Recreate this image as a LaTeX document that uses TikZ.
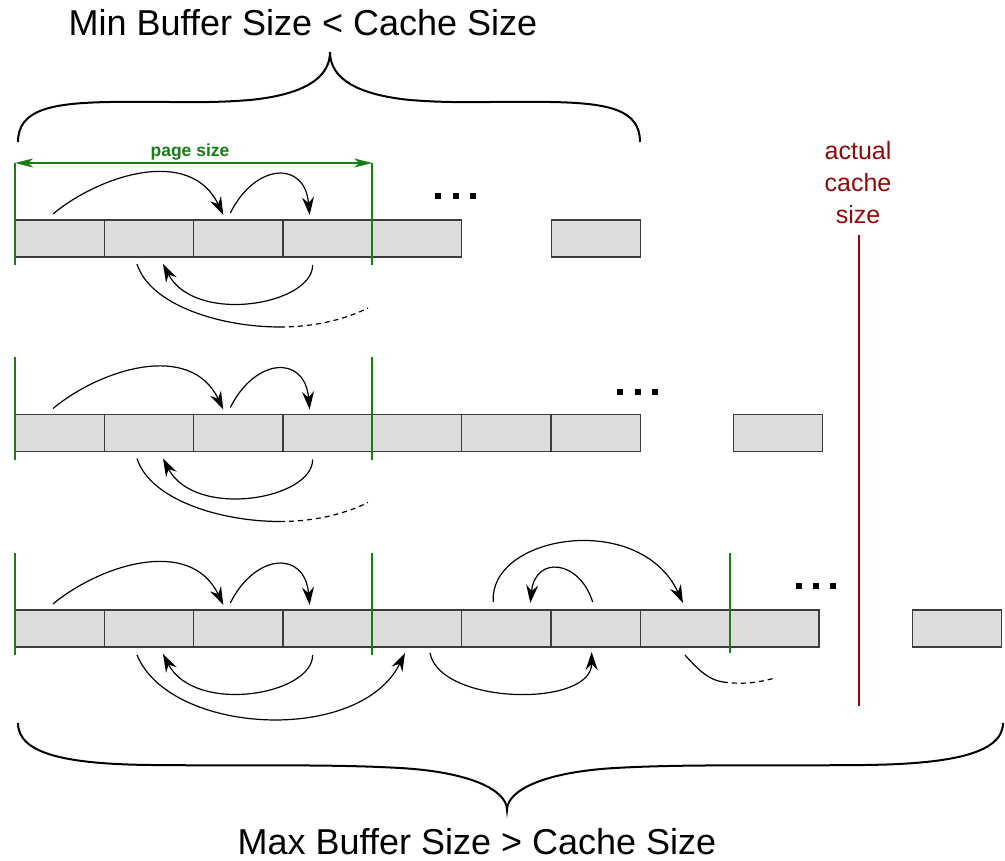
\documentclass[tikz,border=0pt]{standalone}
\usepackage{fontspec}
\setmainfont{Liberation Sans}
\usetikzlibrary{arrows.meta,calc}
\definecolor{pggreen}{RGB}{20,125,20}
\definecolor{cachered}{RGB}{140,10,10}
\definecolor{cellgray}{RGB}{220,220,220}
\definecolor{celledge}{RGB}{60,60,60}
\begin{document}
\begin{tikzpicture}[x=1pt,y=-1pt,
  cell/.style={draw=celledge,fill=cellgray,line width=1.3pt,minimum width=89.33pt,minimum height=37pt,inner sep=0pt,outer sep=0pt},
  flow/.style={line width=1.2pt,-{Stealth[length=18pt,width=12pt,inset=6pt]}},
  tail/.style={line width=1.2pt},
  tailgap/.style={line width=1.2pt,dash pattern=on 5pt off 4pt},
  pageline/.style={draw=pggreen,line width=2pt},
  brace/.style={line width=2pt},
  title/.style={font=\fontsize{36}{40}\selectfont,anchor=base,inner sep=0pt},
  cacheline/.style={draw=cachered,line width=2.5pt}]
\useasboundingbox (0,0) rectangle (1005,861);

% rows of cells
\foreach \r/\yy/\n in {1/238.5/5,2/433/7,3/628.5/9}{
  \foreach \i in {1,...,\n}{
    \node[cell] (r\r c\i) at ({15+89.33*(\i-0.5)},\yy) {};
  }
}
\node[cell] (r1x) at (596,238.5) {};
\node[cell] (r2x) at (778,433) {};
\node[cell] (r3x) at (957,628.5) {};

% dots
\foreach \x/\y in {438/196,456/196,473/196,620/392,638/392,655/392,799/586,816/586,833/586}
  \fill (\x-3.2,\y-3.2) rectangle ++(6.4,6.4);

% green page markers
\foreach \r in {1,2,3}{
  \draw[pageline] ([yshift=57pt]r\r c1.north west) -- ([yshift=-8pt]r\r c1.south west);
  \draw[pageline] ([yshift=57pt]r\r c4.north east) -- ([yshift=-8pt]r\r c4.south east);
}
\draw[pageline] ([yshift=57pt]r3c8.north east) -- ([yshift=-6pt]r3c8.south east);
\draw[pageline,{Stealth[length=18pt,width=9pt,inset=5pt]}-{Stealth[length=18pt,width=9pt,inset=5pt]}]
  ([yshift=57pt]r1c1.north west) -- ([yshift=57pt]r1c4.north east);
\node[anchor=base,text=pggreen,font=\bfseries\fontsize{17.5}{20}\selectfont] (pslbl) at (190,157) {page size};

% arrows in each row
\foreach \r in {1,2,3}{
  \draw[flow] ([xshift=-6.7pt,yshift=6pt]r\r c1.north) .. controls +(47,-39) and +(-33,-69) .. ([xshift=-15pt,yshift=5pt]r\r c3.north);
  \draw[flow] ([xshift=-8pt,yshift=7pt]r\r c3.north) .. controls +(25,-50) and +(-5,-55) .. ([xshift=-18pt,yshift=5pt]r\r c4.north);
  \draw[flow] ([xshift=-15pt,yshift=-8pt]r\r c4.south) .. controls +(0,40) and +(32,61) .. ([xshift=14pt,yshift=-7pt]r\r c2.south);
}
\foreach \r in {1,2}{
  \coordinate (r\r dm) at ($(r\r c2.south)+(131,70)$);
  \coordinate (r\r de) at ($(r\r c2.south)+(219,51)$);
  \draw[tail] ([xshift=-12pt,yshift=-7pt]r\r c2.south) .. controls +(13,41) and +(-60,0) .. (r\r dm);
  \draw[tailgap] (r\r dm) .. controls +(40,0) and +(-18,9) .. (r\r de);
}
% row 3 extra arrows
\draw[flow] ([xshift=-12pt,yshift=-8pt]r3c2.south) .. controls +(33,80) and +(-45,92) .. ([xshift=-12pt,yshift=-6pt]r3c5.south);
\draw[flow] ([xshift=-13pt,yshift=8pt]r3c6.north) .. controls +(-5,-67) and +(-43,-93) .. ([xshift=-2pt,yshift=7pt]r3c8.north);
\draw[flow] ([xshift=-3pt,yshift=8pt]r3c7.north) .. controls +(-13,-42) and +(5,-48) .. ([xshift=24pt,yshift=7pt]r3c6.north);
\draw[flow] ([xshift=13pt,yshift=-6pt]r3c5.south) .. controls +(10,52) and +(0,56) .. ([xshift=-4pt,yshift=-5pt]r3c7.south);
\coordinate (r3hm) at ($(r3c8.south)+(38,35)$);
\coordinate (r3he) at ($(r3c8.south)+(90,31)$);
\draw[tail] ([yshift=-8pt]r3c8.south) .. controls +(15,17) and +(-13,-2) .. (r3hm);
\draw[tailgap] (r3hm) .. controls +(22,3) and +(-15,4) .. (r3he);

% actual cache size
\node[text=cachered,align=center,font=\fontsize{25}{32}\selectfont,inner sep=0pt] (cachelbl) at (858,183) {actual\\cache\\size};
\coordinate (cbot) at (859,706);
\draw[cacheline] ([yshift=-11pt]cachelbl.south -| cbot) -- (cbot);

% braces and titles
\node[title] (mintitle) at (303,36) {Min Buffer Size < Cache Size};
\draw[brace] (18,142) .. controls (18,110) and (50,103) .. (110,102)
  .. controls (170,101) and (200,104) .. (250,100)
  .. controls (300,95) and (330,80) .. (330,52)
  .. controls (330,80) and (360,95) .. (410,100)
  .. controls (460,104) and (490,101) .. (550,102)
  .. controls (610,103) and (640,110) .. (640,142);
\node[title] (maxtitle) at (477,854) {Max Buffer Size > Cache Size};
\draw[brace] (18,723) .. controls (18,755) and (70,764) .. (150,765)
  .. controls (250,766) and (330,764) .. (400,768)
  .. controls (470,772) and (507,790) .. (507,810)
  .. controls (507,790) and (545,772) .. (615,768)
  .. controls (685,764) and (765,766) .. (865,765)
  .. controls (945,764) and (1003,755) .. (1003,723);
\end{tikzpicture}
\end{document}
